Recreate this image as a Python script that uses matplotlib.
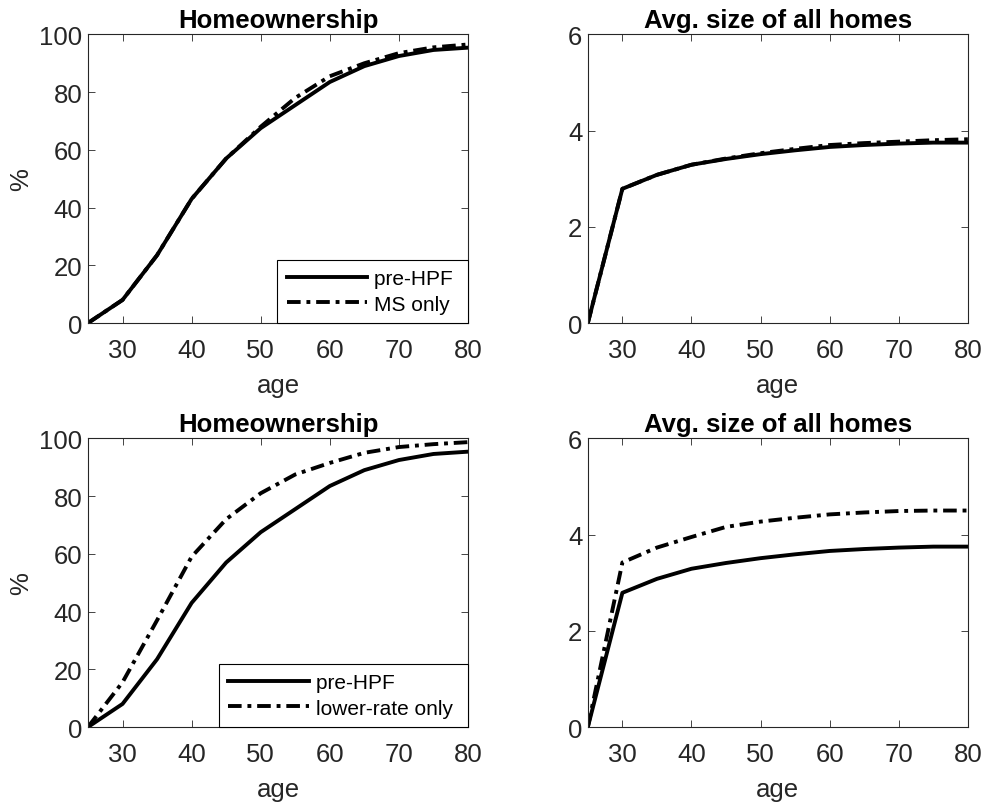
import numpy as np
import matplotlib
matplotlib.use("Agg")
import matplotlib.pyplot as plt

plt.rcParams['font.family'] = ['Liberation Sans', 'DejaVu Sans']

age = [25, 30, 35, 40, 45, 50, 55, 60, 65, 70, 75, 80]

# homeownership, %
own_pre = [0, 8, 23.5, 43, 57, 67.5, 75.5, 83.5, 89, 92.5, 94.6, 95.4]
own_ms = [0, 8, 23.5, 43, 57, 68, 78, 85.5, 90, 93.5, 95.5, 96.5]
own_lower = [0, 15.5, 37, 59, 72, 81, 87.5, 91.5, 95, 97, 98, 98.7]

# avg. size of all homes
size_pre = [0, 2.79, 3.08, 3.29, 3.41, 3.51, 3.59, 3.66, 3.70, 3.73, 3.75, 3.75]
size_ms = [0, 2.79, 3.08, 3.29, 3.42, 3.53, 3.62, 3.70, 3.74, 3.77, 3.80, 3.82]
size_lower = [0, 3.42, 3.73, 3.95, 4.16, 4.27, 4.35, 4.42, 4.46, 4.49, 4.50, 4.50]

dashdot = (0, (3.5, 1.5, 1, 1.5))
lw = 2.8
fs = 18.5
tick_c = '#262626'

fig = plt.figure(figsize=(9.83, 8.04), dpi=100)
lefts = [0.0895, 0.598]
bottoms = [0.597, 0.0945]
w, h = 0.3866, 0.359

panels = [
    (0, 0, own_pre, own_ms, 'MS only', 'own'),
    (1, 0, size_pre, size_ms, None, 'size'),
    (0, 1, own_pre, own_lower, 'lower-rate only', 'own'),
    (1, 1, size_pre, size_lower, None, 'size'),
]

for col, row, base, alt, lab, kind in panels:
    ax = fig.add_axes([lefts[col], bottoms[row], w, h])
    ax.plot(age, base, color='black', lw=lw, label='pre-HPF')
    ax.plot(age, alt, color='black', lw=lw, linestyle=dashdot, label=lab)
    ax.set_xlim(25, 80)
    ax.set_xticks([30, 40, 50, 60, 70, 80])
    if kind == 'own':
        ax.set_ylim(0, 100)
        ax.set_yticks([0, 20, 40, 60, 80, 100])
        ax.set_title('Homeownership', fontsize=fs, fontweight='bold', pad=5)
        ax.set_ylabel('%', fontsize=fs, color=tick_c, labelpad=4.5)
        leg = ax.legend(loc='lower right', borderaxespad=0, fontsize=15,
                        fancybox=False, framealpha=1, edgecolor='black',
                        handlelength=3.85, handletextpad=0.35, borderpad=0.45,
                        labelspacing=0.3)
        leg.get_frame().set_linewidth(0.8)
        # MATLAB leaves extra room to the right of the legend text
        for t in leg.get_texts():
            t.set_text(t.get_text() + ' ')
    else:
        ax.set_ylim(0, 6)
        ax.set_yticks([0, 2, 4, 6])
        ax.set_title('Avg. size of all homes', fontsize=fs, fontweight='bold', pad=5)
    ax.set_xlabel('age', fontsize=fs, color=tick_c, labelpad=8)
    ax.tick_params(direction='in', top=True, right=True, length=5, width=0.6,
                   labelsize=fs, colors=tick_c, labelcolor=tick_c)
    ax.tick_params(axis='x', pad=11)
    ax.tick_params(axis='y', pad=4)
    for sp in ax.spines.values():
        sp.set_linewidth(0.8)
        sp.set_color(tick_c)

fig.savefig('out.png', dpi=100)
